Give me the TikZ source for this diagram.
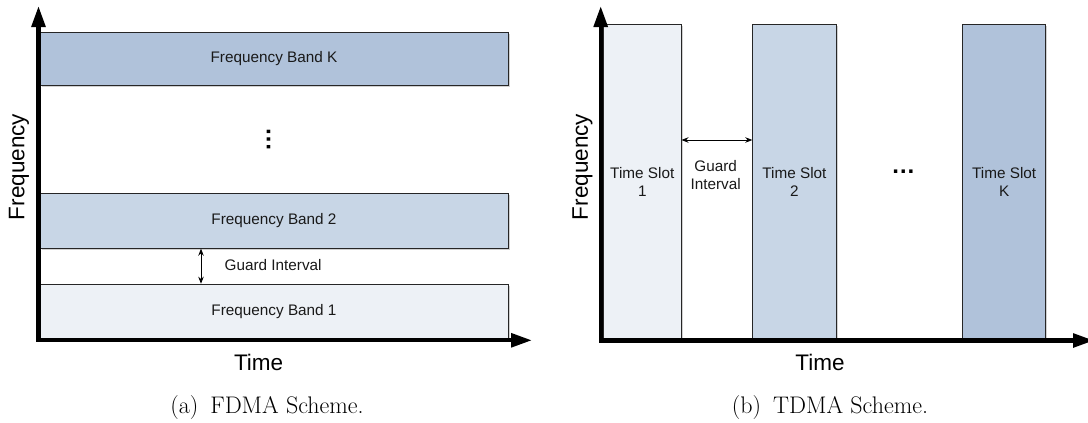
\documentclass[tikz,border=0pt]{standalone}
\usepackage{fontspec}
\newfontfamily\arial{Liberation Sans}
\usetikzlibrary{arrows.meta,shadows}
\definecolor{bandK}{HTML}{B0C2DA}
\definecolor{bandB}{HTML}{C8D6E6}
\definecolor{bandA}{HTML}{EDF1F6}
\definecolor{edgec}{HTML}{262626}
\begin{document}
\begin{tikzpicture}[x=1pt,y=-1pt,
  box/.style={draw=edgec, line width=1pt, inner sep=0pt, anchor=north west, align=center,
    font=\arial\fontsize{15.3}{18}\selectfont, text=black!90,
    drop shadow={shadow xshift=1.5pt, shadow yshift=-1.5pt, fill=black!18, opacity=1}},
  lbl/.style={inner sep=0pt, align=center, font=\arial\fontsize{15.3}{18.5}\selectfont, text=black!90},
  dots/.style={inner sep=0pt, font=\arial\bfseries\fontsize{24}{26}\selectfont},
  axlbl/.style={inner sep=0pt, font=\arial\fontsize{22.5}{26}\selectfont},
  captext/.style={inner sep=0pt, font=\fontsize{24}{28}\selectfont},
  axisline/.style={line width=4.2pt, {Triangle[length=21pt,width=13.5pt]}-{Triangle[length=21pt,width=13.5pt]}},
  guard/.style={line width=0.8pt, {Stealth[length=7pt,width=5.5pt]}-{Stealth[length=7pt,width=5.5pt]}}
]
\useasboundingbox (0,0) rectangle (1088,423);
% ---------- (a) FDMA ----------
\node[box, fill=bandK, minimum width=468pt, minimum height=53.6pt] (bK) at (39.5,31.7) {Frequency Band K};
\node[box, fill=bandB, minimum width=468pt, minimum height=54.4pt] (b2) at (39.5,193.3) {Frequency Band 2};
\node[box, fill=bandA, minimum width=468pt, minimum height=54.6pt] (b1) at (39.5,283.7) {Frequency Band 1};
\node[dots, rotate=90] (vd) at (268.5,139) {…};
\coordinate (gx) at (201,0);
\draw[guard] (b2.south -| gx) -- (b1.north -| gx);
\node[lbl, anchor=west] (gl) at (224.5,265) {Guard Interval};
\coordinate (ya) at (38.5,6);
\coordinate (oa) at (38.5,340.3);
\coordinate (xa) at (532,340.3);
\draw[axisline] (ya) -- (oa) -- (xa);
\node[axlbl, rotate=90] (fa) at (19,167) {Frequency};
\node[axlbl] (ta) at (258.6,362) {Time};
\node[captext] (ca) at (267,408) {(a)\hspace{12pt}FDMA Scheme.};
% ---------- (b) TDMA ----------
\node[box, fill=bandA, minimum width=77.5pt, minimum height=314.3pt] (s1) at (603,24) {Time Slot\\1};
\node[box, fill=bandB, minimum width=83.2pt, minimum height=314.3pt] (s2) at (752.3,24) {Time Slot\\2};
\node[box, fill=bandK, minimum width=83.3pt, minimum height=314.3pt] (sK) at (962,24) {Time Slot\\K};
\coordinate (gy) at (0,140);
\draw[guard] (s1.east |- gy) -- (s2.west |- gy);
\node[lbl] (gr) at (715.7,175) {Guard\\Interval};
\node[dots] (hd) at (903.4,172) {…};
\coordinate (yb) at (600.7,6);
\coordinate (ob) at (600.7,340.5);
\coordinate (xb) at (1094,340.5);
\draw[axisline] (yb) -- (ob) -- (xb);
\node[axlbl, rotate=90] (fb) at (582.4,167) {Frequency};
\node[axlbl] (tb) at (820,362) {Time};
\node[captext] (cb) at (830,408) {(b)\hspace{12pt}TDMA Scheme.};
\end{tikzpicture}
\end{document}
